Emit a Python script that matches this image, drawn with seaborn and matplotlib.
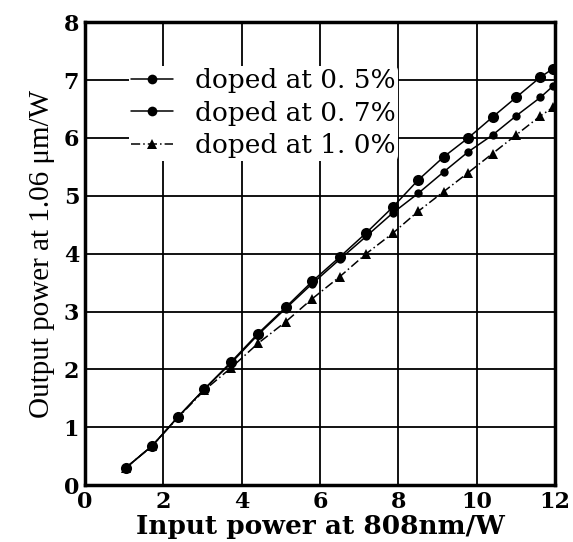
"""
Output power at 1.06 um vs. input power at 808 nm for three doping levels.
"""

import matplotlib
matplotlib.use("Agg")
import matplotlib.pyplot as plt
import numpy as np
import pandas as pd
import seaborn as sns

# values
input_power = [1.05, 1.72, 2.38, 3.05, 3.72, 4.42, 5.12, 5.8, 6.5, 7.18,
               7.85, 8.5, 9.15, 9.78, 10.4, 11.0, 11.62, 11.95]
doped_05 = [0.30, 0.68, 1.18, 1.66, 2.12, 2.62, 3.07, 3.52, 3.94, 4.36,
            4.80, 5.27, 5.67, 6.00, 6.36, 6.70, 7.05, 7.20]
doped_07 = [0.30, 0.68, 1.18, 1.66, 2.10, 2.60, 3.05, 3.48, 3.90, 4.30,
            4.70, 5.04, 5.41, 5.76, 6.05, 6.38, 6.70, 6.90]
doped_10 = [0.30, 0.68, 1.17, 1.64, 2.02, 2.45, 2.82, 3.22, 3.60, 4.00,
            4.35, 4.73, 5.07, 5.40, 5.73, 6.05, 6.38, 6.53]
labels = ["doped at 0. 5%", "doped at 0. 7%", "doped at 1. 0%"]
x_ticks = [0, 2, 4, 6, 8, 10, 12]
y_ticks = [0, 1, 2, 3, 4, 5, 6, 7, 8]

df = pd.concat([
    pd.DataFrame({"x": input_power, "y": vals, "series": lab})
    for vals, lab in zip([doped_05, doped_07, doped_10], labels)
])

sns.set_style("ticks")
plt.rcParams["font.family"] = ["DejaVu Serif"]
for key in ["text.color", "axes.labelcolor", "xtick.color", "ytick.color"]:
    plt.rcParams[key] = "black"

fig = plt.figure(figsize=(5.73, 5.42), dpi=100)
ax = fig.add_axes([0.148, 0.105, 0.821, 0.854])

sns.lineplot(
    data=df, x="x", y="y", style="series", hue="series",
    palette=["black"] * 3,
    markers={labels[0]: "o", labels[1]: "o", labels[2]: "^"},
    dashes={labels[0]: "", labels[1]: "", labels[2]: (6, 2, 1, 2)},
    sort=False, ax=ax, linewidth=1.1, markersize=7, markeredgewidth=0,
)
# size differences between the series' markers
for line, ms in zip(ax.get_lines()[:3], [8, 6, 6.5]):
    line.set_markersize(ms)

ax.set_xlim(0, 12)
ax.set_ylim(0, 8)
ax.set_xticks(x_ticks)
ax.set_yticks(y_ticks)
ax.grid(True, color="black", linewidth=1.3)
ax.set_axisbelow(True)
for sp in ax.spines.values():
    sp.set_linewidth(2.5)
    sp.set_color("black")
ax.tick_params(length=0, pad=4)
for lbl in ax.get_xticklabels() + ax.get_yticklabels():
    lbl.set_fontsize(16)
    lbl.set_fontweight("bold")

ax.set_xlabel("Input power at 808nm/W", fontsize=19, fontweight="bold", labelpad=1)
ax.set_ylabel("Output power at 1.06 \u03bcm/W", fontsize=21,
              family=["Liberation Serif"], labelpad=6)

leg = ax.legend(loc="upper left", bbox_to_anchor=(0.065, 0.935), frameon=True,
                fontsize=19, handlelength=1.6, labelspacing=0.28,
                borderpad=0.1, handletextpad=0.8)
leg.get_frame().set_facecolor("white")
leg.get_frame().set_edgecolor("none")
leg.get_frame().set_alpha(1)

fig.savefig("out.png", dpi=100)
